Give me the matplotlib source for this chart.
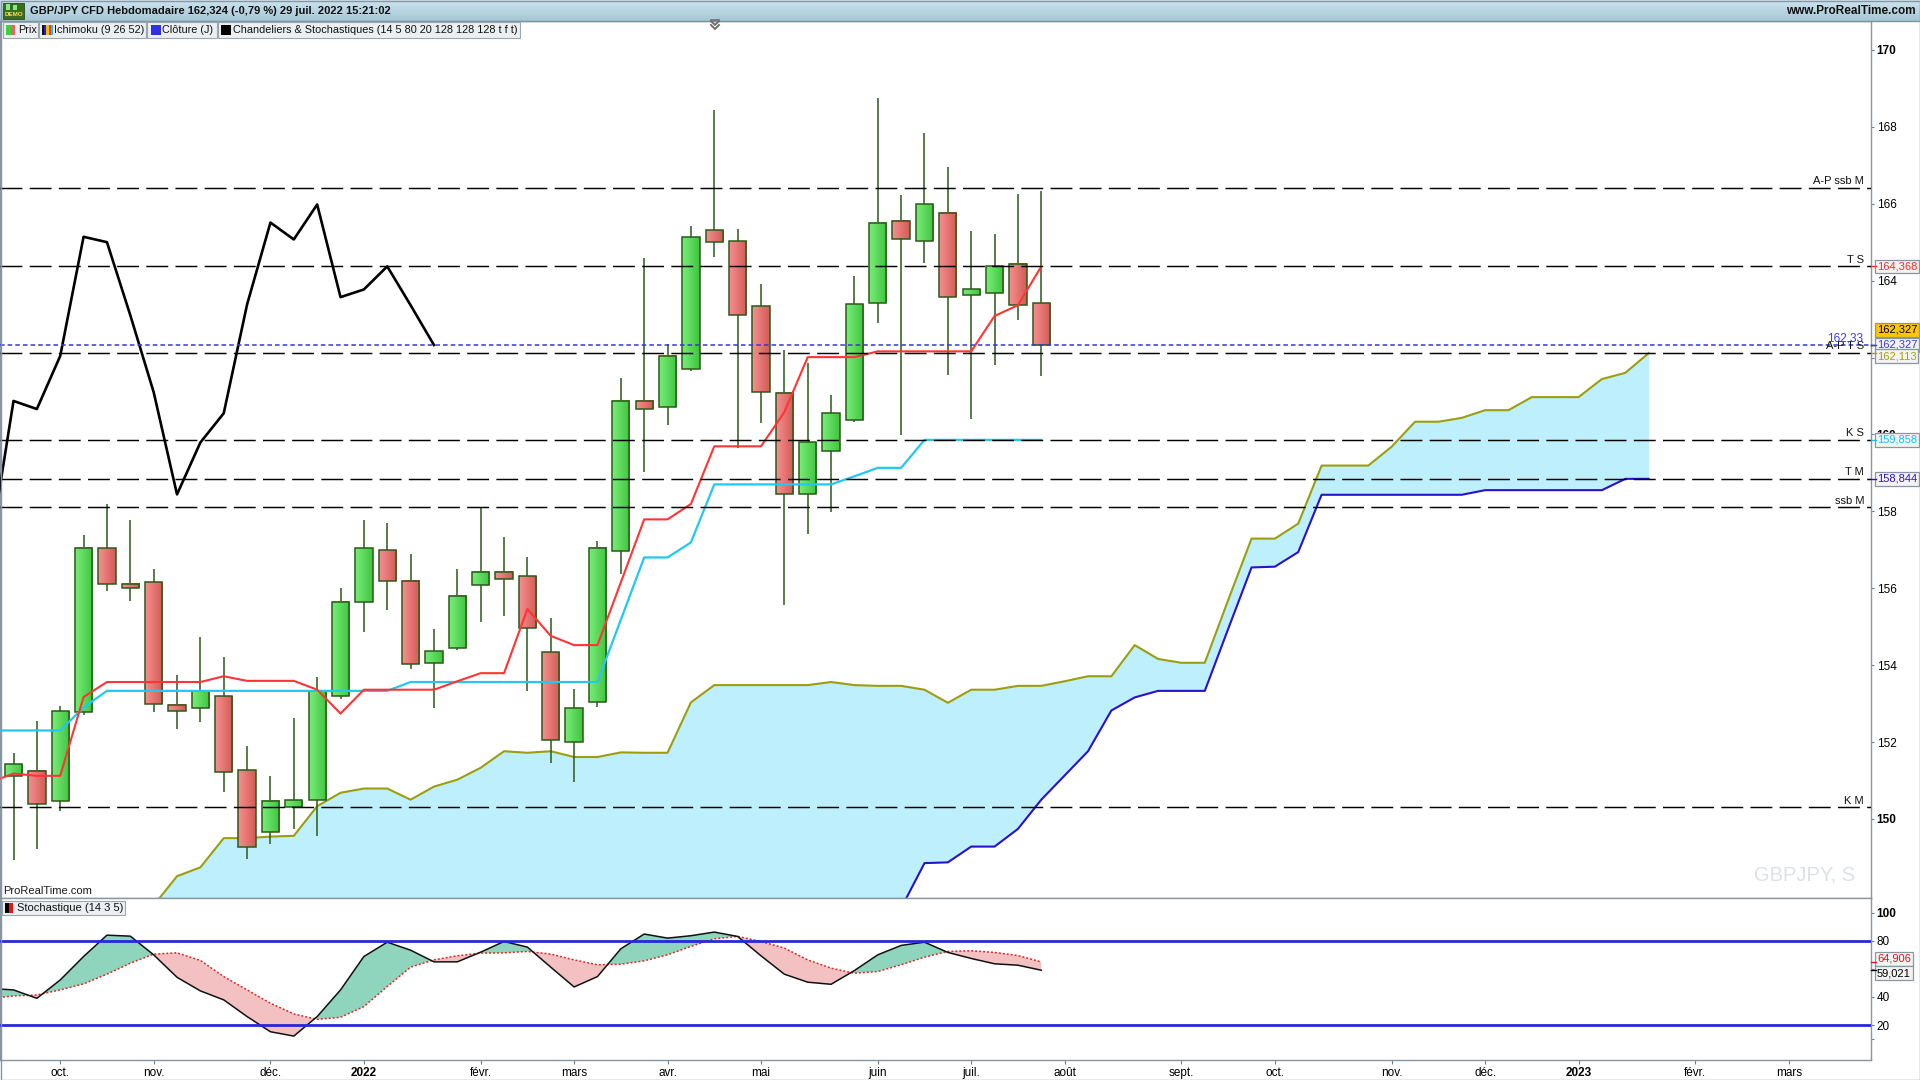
import numpy as np
import matplotlib
matplotlib.use('Agg')
import matplotlib.pyplot as plt
from matplotlib.patches import Rectangle
import matplotlib.transforms as mtransforms

plt.rcParams['font.family'] = ['Liberation Sans', 'DejaVu Sans']

# ---------------- data (weekly GBP/JPY, index 0 = week of 20 Sep 2021) ----------------
candle_x = list(range(45))
opens = [151.12, 151.24, 150.47, 152.77, 157.04, 156.12, 156.15, 152.97, 152.88, 153.19,
         151.27, 149.65, 150.31, 150.49, 153.19, 155.65, 156.99, 156.19, 154.06, 154.44,
         156.08, 156.43, 156.31, 154.33, 152.01, 153.03, 156.96, 160.87, 160.71, 161.71,
         165.31, 165.02, 163.33, 161.07, 158.44, 159.58, 160.37, 163.41, 165.56, 165.02,
         165.77, 163.62, 163.67, 164.44, 163.41]
highs = [151.72, 152.55, 152.94, 157.39, 158.20, 157.77, 156.49, 153.74, 154.72, 154.20,
         151.89, 151.12, 152.62, 153.70, 156.00, 157.77, 157.69, 156.90, 154.94, 156.50,
         158.11, 157.32, 156.81, 155.22, 153.38, 157.23, 161.47, 164.60, 162.36, 165.43,
         168.43, 165.34, 163.91, 162.19, 161.86, 161.02, 164.12, 168.75, 166.23, 167.85,
         166.95, 165.29, 165.21, 166.25, 166.33]
lows = [148.93, 149.22, 150.21, 152.71, 155.92, 155.68, 152.79, 152.35, 152.51, 150.70,
        148.95, 149.35, 149.73, 149.55, 153.13, 154.87, 155.44, 153.89, 152.88, 154.38,
        155.11, 155.28, 153.33, 151.45, 150.95, 152.91, 156.37, 159.03, 160.24, 161.65,
        164.62, 159.64, 160.30, 155.57, 157.42, 157.97, 160.33, 162.90, 159.99, 164.46,
        161.55, 160.39, 161.81, 162.98, 161.53]
closes = [151.42, 150.38, 152.80, 157.04, 156.12, 156.00, 153.00, 152.80, 153.33, 151.22,
          149.28, 150.47, 150.49, 153.33, 155.65, 157.04, 156.19, 154.03, 154.37, 155.81,
          156.43, 156.24, 154.96, 152.05, 152.88, 157.04, 160.87, 160.66, 162.04, 165.14,
          165.00, 163.10, 161.10, 158.44, 159.79, 160.55, 163.38, 165.51, 165.07, 165.98,
          163.57, 163.77, 164.37, 163.36, 162.324]

line_x = list(range(-1, 45))
tenkan = [150.95, 151.18, 151.12, 151.12, 153.17, 153.56, 153.56, 153.56, 153.56, 153.56,
          153.71, 153.59, 153.59, 153.59, 153.36, 152.74, 153.36, 153.36, 153.36, 153.36,
          153.58, 153.79, 153.79, 155.46, 154.76, 154.52, 154.52, 156.15, 157.79, 157.79,
          158.19, 159.69, 159.69, 159.69, 160.58, 162.01, 162.01, 162.01, 162.16, 162.16,
          162.16, 162.16, 162.16, 163.08, 163.36, 164.368]
kijun = [152.30, 152.30, 152.30, 152.30, 152.90, 153.33, 153.33, 153.33, 153.33, 153.33,
         153.33, 153.33, 153.33, 153.33, 153.33, 153.33, 153.33, 153.33, 153.56, 153.56,
         153.56, 153.56, 153.56, 153.56, 153.56, 153.56, 153.56, 155.18, 156.80, 156.80,
         157.19, 158.70, 158.70, 158.70, 158.70, 158.70, 158.70, 158.91, 159.13, 159.13,
         159.858, 159.858, 159.858, 159.858, 159.858, 159.858]

chikou_x = list(range(-1, 19))
chikou = [157.04, 160.87, 160.66, 162.04, 165.14, 165.00, 163.10, 161.10, 158.44, 159.79,
          160.55, 163.38, 165.51, 165.07, 165.98, 163.57, 163.77, 164.37, 163.36, 162.324]

cloud_x = list(range(-1, 71))
senkou_a = [146.30, 146.50, 146.70, 146.90, 147.10, 147.30, 147.50, 147.75, 148.51, 148.74,
            149.50, 149.50, 149.54, 149.56, 150.33, 150.68, 150.79, 150.79, 150.50, 150.84,
            151.02, 151.33, 151.76, 151.72, 151.76, 151.61, 151.61, 151.73, 151.72, 151.72,
            153.03, 153.48, 153.48, 153.48, 153.48, 153.48, 153.56, 153.48, 153.46, 153.46,
            153.36, 153.02, 153.36, 153.36, 153.46, 153.46, 153.58, 153.71, 153.71, 154.52,
            154.16, 154.06, 154.06, 155.69, 157.29, 157.29, 157.68, 159.19, 159.19, 159.19,
            159.68, 160.33, 160.33, 160.43, 160.63, 160.63, 160.97, 160.97, 160.97, 161.44,
            161.60, 162.113]
senkou_b = [146.00, 146.00, 146.00, 146.00, 146.00, 146.00, 146.00, 146.00, 146.00, 146.00,
            146.00, 146.00, 146.00, 146.00, 146.00, 146.00, 146.00, 146.00, 146.00, 146.00,
            146.00, 146.00, 146.00, 146.00, 146.00, 146.00, 146.00, 146.00, 146.00, 146.00,
            146.00, 146.30, 146.30, 146.60, 146.60, 146.90, 147.00, 147.10, 147.30, 147.68,
            148.85, 148.87, 149.28, 149.28, 149.74, 150.50, 151.13, 151.76, 152.82, 153.16,
            153.33, 153.33, 153.33, 154.94, 156.54, 156.56, 156.94, 158.43, 158.43, 158.43,
            158.43, 158.43, 158.43, 158.43, 158.55, 158.55, 158.55, 158.55, 158.55, 158.55,
            158.844, 158.844]

stoch_k = [46.0, 45.0, 39.0, 52.1, 68.8, 84.0, 83.3, 70.0, 54.0, 44.3,
           37.9, 26.0, 15.2, 12.1, 26.0, 45.0, 68.8, 79.0, 73.3, 65.0,
           65.0, 71.9, 79.5, 75.5, 61.2, 47.1, 54.5, 74.3, 84.8, 81.9,
           83.6, 86.2, 83.1, 69.3, 56.2, 50.5, 49.0, 58.8, 70.0, 76.7,
           79.0, 71.7, 67.4, 63.6, 62.6, 59.021]
stoch_d = [38.9, 40.7, 41.4, 45.0, 49.3, 56.2, 64.0, 70.5, 71.4, 66.0,
           54.5, 45.0, 35.5, 27.9, 24.0, 25.5, 33.1, 47.4, 61.2, 66.4,
           69.3, 71.2, 71.4, 72.4, 70.5, 66.4, 62.9, 63.3, 65.7, 70.0,
           76.0, 81.4, 83.1, 79.5, 74.8, 66.4, 60.5, 56.9, 58.1, 62.9,
           68.3, 72.4, 72.9, 71.7, 69.5, 64.906]

level_values = [166.42, 164.368, 162.13, 159.858, 158.844, 158.10, 150.30]
level_names = ['A-P ssb M', 'T S', 'A-P T S', 'K S', 'T M', 'ssb M', 'K M']
last_price = 162.327

month_ticks = [2, 6, 11, 15, 20, 24, 28, 32, 37, 41, 45, 50, 54, 59, 63, 67, 72, 76]
month_labels = ['oct.', 'nov.', 'déc.', '2022', 'févr.', 'mars', 'avr.', 'mai', 'juin',
                'juil.', 'août', 'sept.', 'oct.', 'nov.', 'déc.', '2023', 'févr.', 'mars']
price_ticks = [150, 152, 154, 156, 158, 160, 162, 164, 166, 168, 170]
price_tick_labels = ['150', '152', '154', '156', '158', '160', '', '164', '166', '168', '170']
stoch_ticks = [10, 20, 40, 60, 80, 100]
stoch_tick_labels = ['', '20', '40', '', '80', '100']

title = 'GBP/JPY CFD Hebdomadaire 162,324 (-0,79 %) 29 juil. 2022 15:21:02'

# ---------------- layout ----------------
W, H = 1920, 1080
AX_R, TOP, MID, BOT = 1871, 21, 898.3, 1060
FRAME = '#8796a2'

fig = plt.figure(figsize=(W / 100, H / 100), dpi=100)
fig.patch.set_facecolor('white')
ax = fig.add_axes([0, 1 - MID / H, AX_R / W, (MID - TOP) / H])
axs = fig.add_axes([0, 1 - BOT / H, AX_R / W, (BOT - MID) / H])

XLIM = (-0.578, 79.52)

# ---------------- price panel ----------------
cx = np.array(cloud_x)
sa = np.array(senkou_a)
sb = np.array(senkou_b)
ax.fill_between(cx, sa, sb, color='#bdf0fc', lw=0, zorder=1)
ax.plot(cx, sa, color='#9d9d0e', lw=1.5, zorder=2, solid_joinstyle='round')
ax.plot(cx, sb, color='#2c10d0', lw=1.5, zorder=2, solid_joinstyle='round')

w = 0.74
g_grad = np.linspace([0.47, 0.93, 0.47], [0.25, 0.77, 0.25], 24)[None, :, :]
r_grad = np.linspace([0.96, 0.56, 0.56], [0.83, 0.36, 0.34], 24)[None, :, :]
ax.vlines(candle_x, lows, highs, color='#2b5a17', lw=1.1, zorder=3.8)
for xi, o, hi, lo, c in zip(candle_x, opens, highs, lows, closes):
    bot, top = min(o, c), max(o, c)
    if top - bot < 0.06:
        top = bot + 0.06
    grad = g_grad if c >= o else r_grad
    ax.imshow(grad, extent=(xi - w / 2, xi + w / 2, bot, top), aspect='auto',
              interpolation='bilinear', zorder=4)
    ax.add_patch(Rectangle((xi - w / 2, bot), w, top - bot, fill=False,
                           ec='#2b5a17', lw=1.1, zorder=4.2))

ax.plot(line_x, kijun, color='#22c8f2', lw=1.6, zorder=5)
ax.plot(line_x, tenkan, color='#ff3434', lw=1.5, zorder=5.1)
ax.plot(chikou_x, chikou, color='black', lw=1.9, zorder=5.2)

trb = mtransforms.blended_transform_factory(ax.transAxes, ax.transData)
for v, name in zip(level_values, level_names):
    ax.axhline(v, color='black', lw=1.05, ls=(0, (15, 5)), zorder=6)
    ax.annotate(name, xy=(0.9963, v), xycoords=trb, xytext=(0, 1.5),
                textcoords='offset pixels', ha='right', va='bottom', fontsize=8,
                color='#111111', zorder=7)
ax.axhline(last_price, color='#3636e0', lw=1.1, ls=(0, (3, 2)), zorder=6.5)
ax.annotate('162,33', xy=(0.9765, last_price), xycoords=trb, xytext=(0, 0),
            textcoords='offset pixels', ha='left', va='bottom', fontsize=8.5,
            color='#3c3cf0', zorder=7)

ax.set_xlim(*XLIM)
ax.set_ylim(147.935, 170.752)
ax.yaxis.tick_right()
ax.set_yticks(price_ticks)
ax.set_yticklabels(price_tick_labels)
for lab in ax.get_yticklabels():
    if lab.get_text() in ('150', '160', '170'):
        lab.set_fontweight('bold')
ax.tick_params(axis='y', direction='out', length=2.5, width=0.8, color='#6f808c',
               pad=1.5, labelsize=8.5)
ax.tick_params(axis='x', bottom=False, labelbottom=False)
for sp in ax.spines.values():
    sp.set_color(FRAME)
    sp.set_linewidth(1.0)


def value_box(a, val, txt, fg, bg='#f3f3f3', dy=0):
    a.annotate(txt, xy=(1, val), xycoords=('axes fraction', 'data'), xytext=(6, dy),
               textcoords='offset pixels', ha='left', va='center', fontsize=8,
               color=fg, annotation_clip=False, zorder=10,
               bbox=dict(boxstyle='square,pad=0.16', fc=bg, ec='#8896a2', lw=0.9))
    tr = mtransforms.blended_transform_factory(a.transAxes, a.transData)
    a.plot([1.0, 1.0028], [val, val], transform=tr, color=fg, lw=1.0,
           clip_on=False, zorder=10)


def fmt(v):
    return f'{v:.3f}'.replace('.', ',')


value_box(ax, tenkan[-1], fmt(tenkan[-1]), '#ff2a2a')
value_box(ax, last_price, fmt(last_price), '#000000', bg='#ffc600', dy=15)
value_box(ax, last_price, fmt(last_price), '#3a3af0')
value_box(ax, senkou_a[-1], fmt(senkou_a[-1]), '#a3a30a', dy=-3)
value_box(ax, kijun[-1], fmt(kijun[-1]), '#18bff0')
value_box(ax, senkou_b[-1], fmt(senkou_b[-1]), '#3010d0')

# ---------------- stochastic panel ----------------
lx = np.array(line_x)
k = np.array(stoch_k)
d = np.array(stoch_d)
axs.fill_between(lx, k, d, where=k >= d, interpolate=True, color='#8fd5be', lw=0, zorder=1)
axs.fill_between(lx, k, d, where=k < d, interpolate=True, color='#f3c1c1', lw=0, zorder=1)
axs.plot(lx, d, color='#e02828', lw=1.1, ls=(0, (1.3, 1.3)), zorder=2)
axs.plot(lx, k, color='#111111', lw=1.1, zorder=2.1)
axs.axhline(80, color='#2828d6', lw=2.0, zorder=3)
axs.axhline(20, color='#2828d6', lw=2.0, zorder=3)

axs.set_xlim(*XLIM)
axs.set_ylim(-4.93, 110.26)
axs.yaxis.tick_right()
axs.set_yticks(stoch_ticks)
axs.set_yticklabels(stoch_tick_labels)
for lab in axs.get_yticklabels():
    if lab.get_text() == '100':
        lab.set_fontweight('bold')
axs.tick_params(axis='y', direction='out', length=2.5, width=0.8, color='#6f808c',
                pad=1.5, labelsize=8.5)
axs.set_xticks(month_ticks)
axs.set_xticklabels(month_labels)
for lab in axs.get_xticklabels():
    if lab.get_text() in ('2022', '2023'):
        lab.set_fontweight('bold')
        lab.set_fontsize(10)
axs.tick_params(axis='x', direction='out', length=3, width=0.8, color='#6f808c',
                pad=2, labelsize=8.5)
for sp in axs.spines.values():
    sp.set_color(FRAME)
    sp.set_linewidth(1.0)

value_box(axs, stoch_d[-1], fmt(stoch_d[-1]), '#e01818', dy=3)
value_box(axs, stoch_k[-1], fmt(stoch_k[-1]), '#000000', dy=-3)

# ---------------- chrome overlay (pixel coordinates) ----------------
ov = fig.add_axes([0, 0, 1, 1], zorder=20)
ov.patch.set_alpha(0)
ov.axis('off')

bar = np.linspace([0.80, 0.89, 0.93], [0.65, 0.78, 0.84], 20)[:, None, :]
ov.imshow(bar, extent=(0, W, TOP, 0), aspect='auto', interpolation='bilinear', zorder=1)
ov.plot([0, W], [TOP, TOP], color='#7f939f', lw=1, zorder=2)

# demo icon
ov.add_patch(Rectangle((3, 3), 21, 16, fc='#3d6b22', ec='#2a4a16', lw=0.6, zorder=3))
ov.add_patch(Rectangle((6, 4), 4, 6, fc='#7df07d', ec='none', zorder=4))
ov.add_patch(Rectangle((13, 5), 4, 5, fc='#7df07d', ec='none', zorder=4))
ov.text(13.5, 15, 'DEMO', fontsize=4.5, color='#ffe24a', ha='center', va='center',
        fontweight='bold', zorder=5)
ov.text(30, 11, title, fontsize=8, fontweight='bold', va='center', ha='left',
        color='#111111', zorder=3)
ov.text(1916, 11, 'www.ProRealTime.com', fontsize=8.5, fontweight='bold', va='center',
        ha='right', color='#111111', zorder=3)

# legend chips
chips = [(3, 38, 'Prix'), (39, 146, 'Ichimoku (9 26 52)'), (147, 217, 'Clôture (J)'),
         (218, 520, 'Chandeliers & Stochastiques (14 5 80 20 128 128 128 t f t)')]
for x0, x1, lab in chips:
    ov.add_patch(Rectangle((x0, 22), x1 - x0, 15.5, fc='#eceff2', ec='#9aa7b2', lw=0.8, zorder=3))
    ov.text(x0 + 15, 30, lab, fontsize=7.8, va='center', ha='left', color='#111111', zorder=4)
ov.add_patch(Rectangle((6, 25), 4.5, 10, fc='#3fd03f', ec='none', zorder=4))
ov.add_patch(Rectangle((10.5, 25), 4.5, 10, fc='#e86464', ec='none', zorder=4))
for j, col in enumerate(['#111111', '#2020c8', '#e8c000', '#e83030', '#20c0f0']):
    ov.add_patch(Rectangle((42 + 2.2 * j, 25), 2.2, 10, fc=col, ec='none', zorder=4))
ov.add_patch(Rectangle((151, 25), 10, 10, fc='#3030e0', ec='none', zorder=4))
ov.add_patch(Rectangle((221, 25), 10, 10, fc='#000000', ec='none', zorder=4))

# collapse chevrons
for yy in (21, 25):
    ov.plot([711, 715, 719], [yy, yy + 4, yy], color='#707070', lw=1.4, zorder=4)
ov.plot([711, 719], [19.5, 19.5], color='#707070', lw=1.2, zorder=4)

ov.text(3, 891, 'ProRealTime.com', fontsize=8, va='center', ha='left', color='#1a1a1a', zorder=4)
ov.text(1805, 875, 'GBPJPY, S', fontsize=14.5, va='center', ha='center', color='#dde1e8', zorder=0.5)

# stochastic chip
ov.add_patch(Rectangle((2, 901), 123, 14, fc='#eceff2', ec='#9aa7b2', lw=0.8, zorder=3))
ov.add_patch(Rectangle((5, 903), 4, 10, fc='#000000', ec='none', zorder=4))
ov.add_patch(Rectangle((9, 903), 4, 10, fc='#e01818', ec='none', zorder=4))
ov.text(17, 908, 'Stochastique (14 3 5)', fontsize=8, va='center', ha='left', color='#111111', zorder=4)

ov.add_patch(Rectangle((0.5, 0.5), W - 1, H - 1, fill=False, ec=FRAME, lw=1, zorder=6))
ov.set_xlim(0, W)
ov.set_ylim(H, 0)

fig.savefig('out.png', dpi=100, facecolor='white')
